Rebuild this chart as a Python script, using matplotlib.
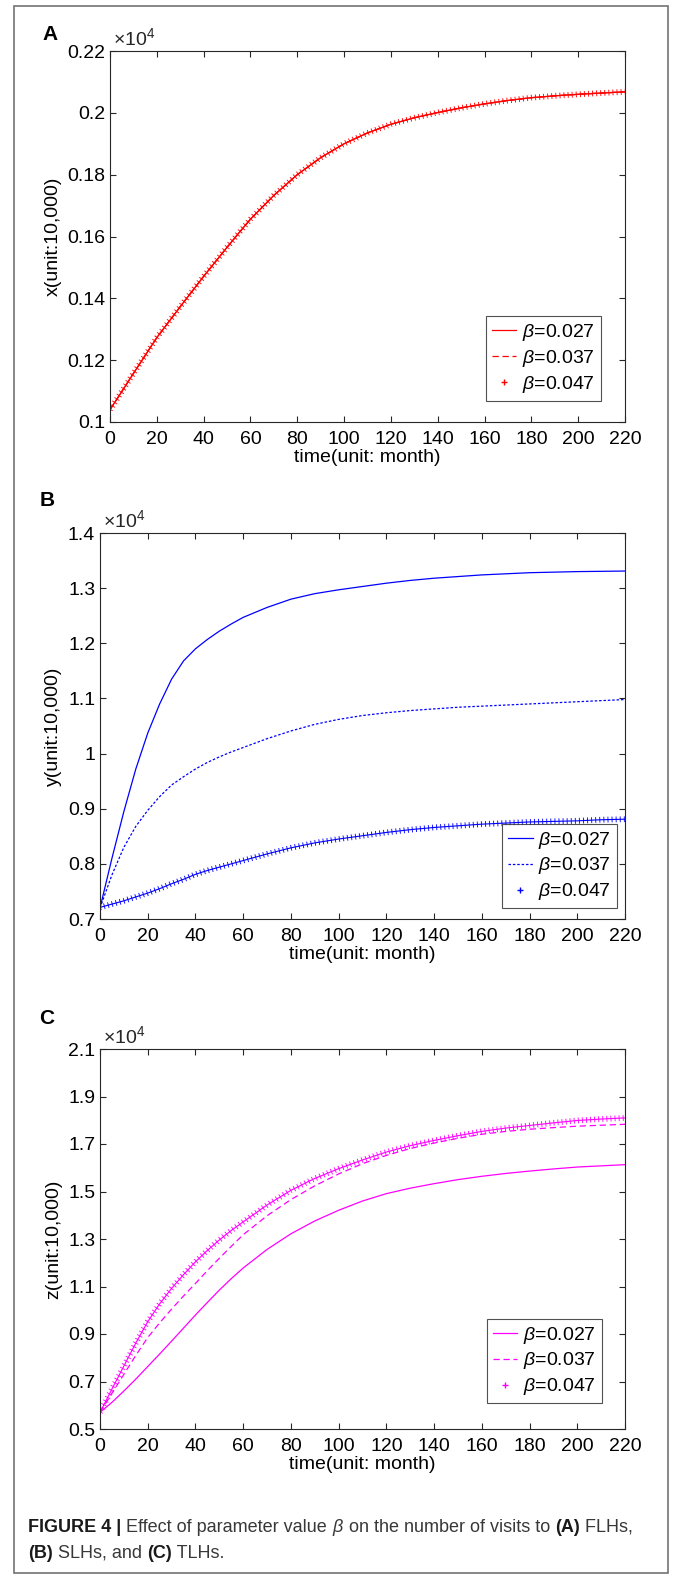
import numpy as np
import matplotlib.pyplot as plt
from matplotlib.lines import Line2D
from matplotlib.patches import Rectangle
from matplotlib import font_manager

plt.rcParams['font.family'] = ['Liberation Sans', 'DejaVu Sans']
plt.rcParams['mathtext.fontset'] = 'custom'
plt.rcParams['mathtext.rm'] = 'Liberation Sans'
plt.rcParams['mathtext.it'] = 'Liberation Sans:italic'
plt.rcParams['mathtext.bf'] = 'Liberation Sans:bold'

# ---- data (units of 10^4) ----
months = [0, 5, 10, 15, 20, 25, 30, 35, 40, 45, 50, 55, 60,
          70, 80, 90, 100, 110, 120, 130, 140, 150, 160, 170, 180, 190, 200, 210, 220]
betas = ['0.027', '0.037', '0.047']

# (A) FLHs: the three beta values give the same curve
x_flh = [0.104, 0.1098, 0.1157, 0.1215, 0.1273, 0.1323, 0.1373, 0.1422, 0.1471,
         0.1518, 0.1565, 0.1611, 0.1656,
         0.1733, 0.180, 0.1855, 0.190, 0.1935, 0.1963, 0.1984, 0.2001, 0.2016,
         0.2029, 0.204, 0.2049, 0.2055, 0.206, 0.2064, 0.2068]

# (B) SLHs
y_027 = [0.72, 0.81, 0.895, 0.972, 1.037, 1.09, 1.135, 1.168, 1.19, 1.207,
         1.222, 1.235, 1.247,
         1.265, 1.280, 1.290, 1.297, 1.303, 1.309, 1.314, 1.318, 1.321, 1.324,
         1.326, 1.328, 1.329, 1.330, 1.3305, 1.331]
y_037 = [0.72, 0.78, 0.83, 0.868, 0.897, 0.922, 0.943, 0.958, 0.972, 0.984,
         0.994, 1.003, 1.011,
         1.027, 1.041, 1.053, 1.062, 1.069, 1.074, 1.078, 1.081, 1.084, 1.086,
         1.088, 1.090, 1.092, 1.094, 1.096, 1.098]
y_047 = [0.721, 0.727, 0.733, 0.74, 0.747, 0.755, 0.764, 0.772, 0.781, 0.788,
         0.794, 0.8, 0.806,
         0.818, 0.829, 0.838, 0.845, 0.851, 0.857, 0.862, 0.866, 0.869, 0.872,
         0.874, 0.876, 0.877, 0.878, 0.880, 0.881]

# (C) TLHs
z_027 = [0.57, 0.612, 0.66, 0.71, 0.763, 0.816, 0.87, 0.925, 0.98, 1.033,
         1.085, 1.133, 1.178,
         1.256, 1.322, 1.376, 1.421, 1.46, 1.491, 1.514, 1.533, 1.55, 1.564,
         1.576, 1.586, 1.595, 1.603, 1.608, 1.613]
z_037 = [0.57, 0.65, 0.73, 0.81, 0.885, 0.947, 1.005, 1.06, 1.113, 1.167,
         1.219, 1.269, 1.318,
         1.398, 1.466, 1.524, 1.574, 1.617, 1.652, 1.681, 1.704, 1.724, 1.741,
         1.753, 1.762, 1.769, 1.775, 1.779, 1.783]
z_047 = [0.57, 0.668, 0.765, 0.862, 0.952, 1.027, 1.092, 1.15, 1.204, 1.252,
         1.296, 1.336, 1.372,
         1.443, 1.505, 1.555, 1.596, 1.633, 1.666, 1.693, 1.715, 1.735, 1.753,
         1.767, 1.778, 1.789, 1.799, 1.805, 1.810]

W, H = 674, 1575
fig = plt.figure(figsize=(W / 100, H / 100), dpi=100)

FS = 14
AX_COLOR = (0.15, 0.15, 0.15)


def px_axes(left, right, top, bottom):
    return fig.add_axes([left / W, 1 - bottom / H, (right - left) / W, (bottom - top) / H])


def draw_panel(ax, series, color, dash, ylim, ystep, ylabel, leg_anchor):
    t = months
    ax.plot(t, series[0], color=color, lw=0.9)
    ax.plot(t, series[1], color=color, lw=0.9, dashes=dash)
    # dense "+" markers of the solver output
    ax.plot(t, series[2], color=color, lw=0.8)
    ax.plot(t, series[2], color=color, lw=4.2, linestyle=(0, (0.15, 0.55)),
            dash_capstyle='butt')

    ax.set_xlim(0, 220)
    ax.set_ylim(*ylim)
    ax.set_xticks(np.arange(0, 221, 20))
    yt = np.round(np.arange(ylim[0], ylim[1] + 1e-9, ystep), 3)
    ax.set_yticks(yt)
    ax.set_yticklabels(['%g' % v for v in yt])
    ax.tick_params(direction='in', top=True, right=True, length=4, width=0.8,
                   labelsize=FS, colors=AX_COLOR, labelcolor='black')
    ax.tick_params(axis='x', pad=6.5)
    ax.tick_params(axis='y', pad=3.5)
    for s in ax.spines.values():
        s.set_color(AX_COLOR)
        s.set_linewidth(0.8)
    ax.set_xlabel('time(unit: month)', fontsize=FS, labelpad=0.5)
    ax.set_ylabel(ylabel, fontsize=FS, labelpad=4)
    ax.text(0.005, 1.006, r'$\times10^{4}$', transform=ax.transAxes,
            fontsize=FS, va='bottom', ha='left', color=AX_COLOR)

    handles = [Line2D([], [], color=color, lw=0.9),
               Line2D([], [], color=color, lw=0.9, dashes=dash),
               Line2D([], [], color=color, lw=0, marker='+', markersize=5)]
    labels = [r'$\beta$=' + b for b in betas]
    leg = ax.legend(handles, labels, loc='lower right', bbox_to_anchor=leg_anchor,
                    fontsize=FS, frameon=True, fancybox=False, borderpad=0.3,
                    labelspacing=0.25, handlelength=1.25, handletextpad=0.3,
                    borderaxespad=0)
    leg.get_frame().set_edgecolor(AX_COLOR)
    leg.get_frame().set_linewidth(0.8)


def panel_letter(letter, x, y):
    fig.text(x / W, 1 - y / H, letter, fontsize=15, fontweight='bold',
             va='center', ha='center')


axA = px_axes(110, 625, 51, 422)
draw_panel(axA, [x_flh, x_flh, x_flh], 'red', (5, 3), (0.1, 0.22), 0.02,
           'x(unit:10,000)', (0.953, 0.057))
panel_letter('A', 50, 35)

axB = px_axes(100, 625, 533, 919)
draw_panel(axB, [y_027, y_037, y_047], 'blue', (2, 1.5), (0.7, 1.4), 0.1,
           'y(unit:10,000)', (0.985, 0.028))
panel_letter('B', 47, 500)

axC = px_axes(100, 625, 1049, 1429)
draw_panel(axC, [z_027, z_037, z_047], 'magenta', (5, 3), (0.5, 2.1), 0.2,
           'z(unit:10,000)', (0.956, 0.068))
panel_letter('C', 47, 1018)

# outer frame
fig.patches.append(Rectangle((14 / W, 2 / H), (668 - 14) / W, (1569 - 2) / H,
                             transform=fig.transFigure, fill=False,
                             edgecolor=(0.45, 0.45, 0.45), lw=1.2))

# caption with mixed weights
names = {f.name for f in font_manager.fontManager.ttflist}
cap_family = ['Liberation Sans Narrow'] if 'Liberation Sans Narrow' in names else ['Liberation Sans']
renderer = fig.canvas.get_renderer()


def caption_line(pieces, x0, y, size):
    x = x0
    for s, bold in pieces:
        t = fig.text(x / W, 1 - y / H, s, fontsize=size, family=cap_family,
                     fontweight='bold' if bold else 'normal', va='center',
                     ha='left', color=(0.1, 0.1, 0.1) if bold else (0.22, 0.22, 0.22))
        x += t.get_window_extent(renderer).width
    return x


line1 = [('FIGURE 4 |', True), (' Effect of parameter value ', False),
         (r'$\beta$', False), (' on the number of visits to ', False),
         ('(A)', True), (' FLHs,', False)]
line2 = [('(B)', True), (' SLHs, and ', False), ('(C)', True), (' TLHs.', False)]

# measure once, then scale the caption to the column width
n_before = len(fig.texts)
probe = caption_line(line1, 0, -100, 12)
for t in fig.texts[n_before:]:
    t.remove()
cap_size = 12 * (634 - 28) / probe
caption_line(line1, 28, 1527, cap_size)
caption_line(line2, 28, 1553, cap_size)

fig.savefig('out.png', dpi=100)
